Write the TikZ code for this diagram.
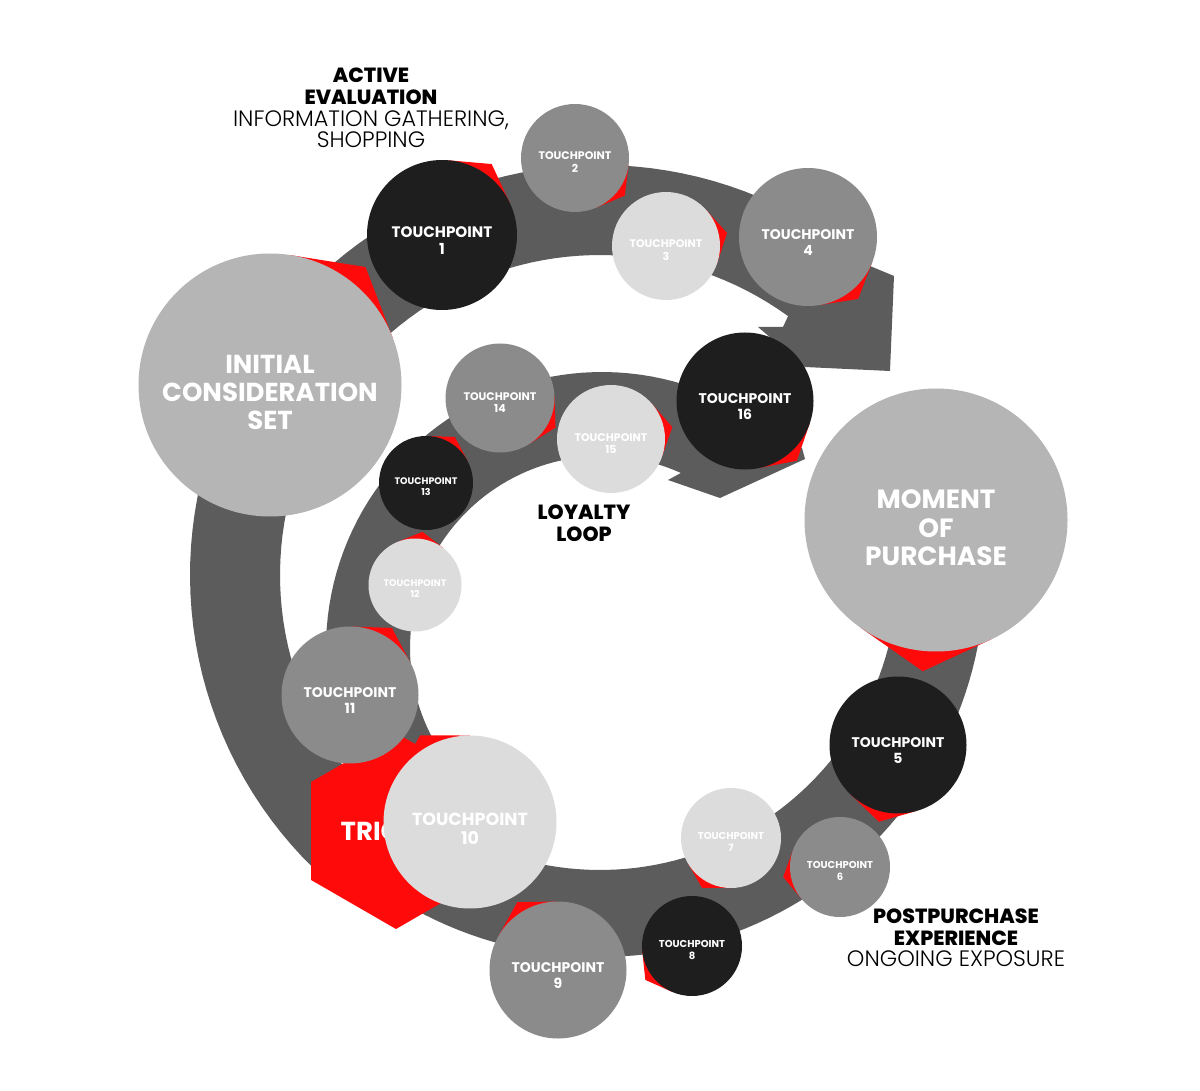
\documentclass[tikz,border=0pt]{standalone}
\usepackage{fontspec}
\setmainfont{Poppins}[UprightFont=* Light, BoldFont=* Bold]
\newfontfamily\heavyfont{Poppins ExtraBold}
\usetikzlibrary{shapes.geometric}
\definecolor{bandgray}{HTML}{5C5C5C}
\definecolor{flapred}{HTML}{FF0A0A}
\definecolor{tpdark}{HTML}{1E1E1E}
\definecolor{tpmid}{HTML}{8B8B8B}
\definecolor{tplight}{HTML}{DCDCDC}
\definecolor{stagegray}{HTML}{B5B5B5}
\newcommand{\tplabel}[1]{\rule{0pt}{1.5em}TOUCHPOINT\\#1}

\begin{document}
\begin{tikzpicture}[x=1pt,y=-1pt,
	band/.style={fill=bandgray},
	flap/.style={fill=flapred},
	tp/.style={circle,inner sep=0pt,text=white,align=center,font=\bfseries},
	heading/.style={align=center,inner sep=0pt,text=black,font=\heavyfont\fontsize{20.5}{21.7}\selectfont},
	note/.style={font=\rmfamily\fontsize{22.3}{21.7}\selectfont}]
			\fill[white] (0,0) rectangle (1200,1091);
			\useasboundingbox (0,0) rectangle (1200,1091);
			
			% outer loop with its head
			\fill[band] plot[domain=228:49,samples=80] ({600+410*cos(\x)},{575-410*sin(\x)})
				-- (894,276) -- (890,371) -- (805,367) -- (758,327) -- (783,327)
				-- plot[domain=54:228,samples=80] ({600+320*cos(\x)},{575-320*sin(\x)}) -- cycle;
			% postpurchase arc
			\fill[band] plot[domain=10:-140,samples=80] ({600+385*cos(\x)},{572-385*sin(\x)})
				-- plot[domain=-140:10,samples=80] ({600+298*cos(\x)},{572-298*sin(\x)}) -- cycle;
			% loyalty loop with its head
			\fill[band] plot[domain=232:47,samples=80] ({602+276*cos(\x)},{648-276*sin(\x)})
				-- (802,448) -- (805,459) -- (720,498) -- (668,480) -- (690,468)
				-- plot[domain=64:232,samples=80] ({602+192*cos(\x)},{648-192*sin(\x)}) -- cycle;
			
			\fill[flap] (270,385) -- +(81:131.5pt) -- +(51:151.8pt) -- +(21:131.5pt) -- cycle;
			\node[tp,fill=stagegray,minimum size=263pt,font=\bfseries\fontsize{26}{28}\selectfont] (consideration) at (270,385) {\rule{0pt}{1.3em}INITIAL\\CONSIDERATION\\SET};
			
			\fill[flap] (442,235) -- +(85:75pt) -- +(55:86.6pt) -- +(25:75pt) -- cycle;
			\node[tp,fill=tpdark,minimum size=150pt,font=\bfseries\fontsize{15.2}{17}\selectfont] (tp1) at (442,235) {\tplabel{1}};
			\fill[flap] (575,158) -- +(-7:54pt) -- +(-37:62.4pt) -- +(-67:54pt) -- cycle;
			\node[tp,fill=tpmid,minimum size=108pt,font=\bfseries\fontsize{11}{12.5}\selectfont] (tp2) at (575,158) {\tplabel{2}};
			\fill[flap] (666,246) -- +(42:54pt) -- +(12:62.4pt) -- +(-18:54pt) -- cycle;
			\node[tp,fill=tplight,minimum size=108pt,font=\bfseries\fontsize{11}{12.5}\selectfont] (tp3) at (666,246) {\tplabel{3}};
			\fill[flap] (808,237) -- +(-21:69pt) -- +(-51:79.7pt) -- +(-81:69pt) -- cycle;
			\node[tp,fill=tpmid,minimum size=138pt,font=\bfseries\fontsize{14}{15.5}\selectfont] (tp4) at (808,237) {\tplabel{4}};
			
			\fill[flap] (936,520) -- +(-65:131.5pt) -- +(-95:151.8pt) -- +(-125:131.5pt) -- cycle;
			\node[tp,fill=stagegray,minimum size=263pt,font=\bfseries\fontsize{26.4}{28.5}\selectfont] (purchase) at (936,520) {\rule{0pt}{1.3em}MOMENT\\OF\\PURCHASE};
			
			\fill[flap] (898,745) -- +(-74:68.5pt) -- +(-104:79.1pt) -- +(-134:68.5pt) -- cycle;
			\node[tp,fill=tpdark,minimum size=137pt,font=\bfseries\fontsize{14}{15.5}\selectfont] (tp5) at (898,745) {\tplabel{5}};
			\fill[flap] (840,867) -- +(160:50pt) -- +(190:57.7pt) -- +(220:50pt) -- cycle;
			\node[tp,fill=tpmid,minimum size=100pt,font=\bfseries\fontsize{10}{11.5}\selectfont] (tp6) at (840,867) {\tplabel{6}};
			\fill[flap] (731,838) -- +(210:50pt) -- +(240:57.7pt) -- +(270:50pt) -- cycle;
			\node[tp,fill=tplight,minimum size=100pt,font=\bfseries\fontsize{10}{11.5}\selectfont] (tp7) at (731,838) {\tplabel{7}};
			\fill[flap] (692,946) -- +(186:50pt) -- +(216:57.7pt) -- +(246:50pt) -- cycle;
			\node[tp,fill=tpdark,minimum size=100pt,font=\bfseries\fontsize{10}{11.5}\selectfont] (tp8) at (692,946) {\tplabel{8}};
			\fill[flap] (558,970) -- +(151:68.5pt) -- +(121:79.1pt) -- +(91:68.5pt) -- cycle;
			\node[tp,fill=tpmid,minimum size=137pt,font=\bfseries\fontsize{14}{15.5}\selectfont] (tp9) at (558,970) {\tplabel{9}};
			
			\node[regular polygon,regular polygon sides=6,shape border rotate=30,minimum size=196pt,inner sep=0pt,
				fill=flapred,text=white,font=\bfseries\fontsize{26}{28}\selectfont] (trigger) at (396,831) {TRIGGER};
			
			\fill[flap] (470,822) -- +(150:86.5pt) -- +(120:99.9pt) -- +(90:86.5pt) -- cycle;
			\node[tp,fill=tplight,minimum size=173pt,font=\bfseries\fontsize{17.5}{19.5}\selectfont] (tp10) at (470,822) {\tplabel{10}};
			\fill[flap] (350,695) -- +(88:68.5pt) -- +(58:79.1pt) -- +(28:68.5pt) -- cycle;
			\node[tp,fill=tpmid,minimum size=137pt,font=\bfseries\fontsize{14}{15.5}\selectfont] (tp11) at (350,695) {\tplabel{11}};
			\fill[flap] (415,585) -- +(112:46.5pt) -- +(82:53.7pt) -- +(52:46.5pt) -- cycle;
			\node[tp,fill=tplight,minimum size=93pt,font=\bfseries\fontsize{9.5}{11}\selectfont] (tp12) at (415,585) {\tplabel{12}};
			\fill[flap] (426,483) -- +(88:47pt) -- +(58:54.3pt) -- +(28:47pt) -- cycle;
			\node[tp,fill=tpdark,minimum size=94pt,font=\bfseries\fontsize{9.5}{11}\selectfont] (tp13) at (426,483) {\tplabel{13}};
			\fill[flap] (500,398) -- +(2:54.5pt) -- +(-28:62.9pt) -- +(-58:54.5pt) -- cycle;
			\node[tp,fill=tpmid,minimum size=109pt,font=\bfseries\fontsize{11}{12.5}\selectfont] (tp14) at (500,398) {\tplabel{14}};
			\fill[flap] (611,439) -- +(41:54pt) -- +(11:62.4pt) -- +(-19:54pt) -- cycle;
			\node[tp,fill=tplight,minimum size=108pt,font=\bfseries\fontsize{11}{12.5}\selectfont] (tp15) at (611,439) {\tplabel{15}};
			\fill[flap] (745,401) -- +(-19:68.5pt) -- +(-49:79.1pt) -- +(-79:68.5pt) -- cycle;
			\node[tp,fill=tpdark,minimum size=137pt,font=\bfseries\fontsize{14}{15.5}\selectfont] (tp16) at (745,401) {\tplabel{16}};
			
			\node[heading] (evaluation) at (371,108) {ACTIVE\\EVALUATION\\{\rmfamily\fontsize{22.3}{21.7}\selectfont INFORMATION GATHERING,}\\{\rmfamily\fontsize{22.3}{21.7}\selectfont SHOPPING}};
			\node[heading] (loyalty) at (584,523) {LOYALTY\\LOOP};
			\node[heading] (postpurchase) at (956,938) {POSTPURCHASE\\EXPERIENCE\\{\rmfamily\fontsize{22.3}{21.7}\selectfont ONGOING EXPOSURE}};
\end{tikzpicture}
\end{document}
